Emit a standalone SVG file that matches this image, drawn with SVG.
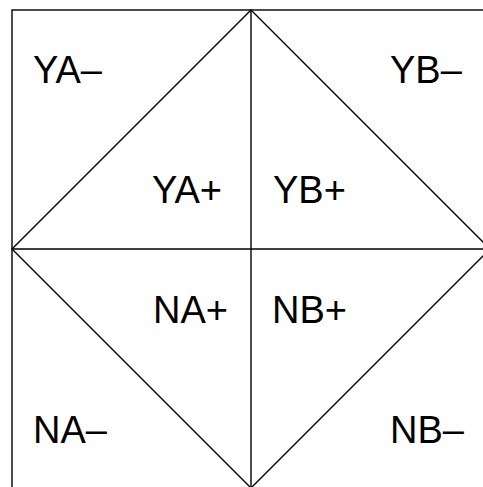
<svg xmlns="http://www.w3.org/2000/svg" width="483" height="487" viewBox="0 0 483 487">
<style>
.ln{fill:none;stroke:#000;stroke-width:1.4}
.lb{font-family:"Liberation Sans",Arial,sans-serif;font-size:38px;fill:#000}
</style>
<rect width="483" height="487" fill="#fff"/>
<g id="connectors">
<rect class="ln" x="12" y="10" width="478" height="478"/>
<line class="ln" x1="251" y1="10" x2="251" y2="488"/>
<line class="ln" x1="12" y1="249" x2="490" y2="249"/>
<polygon class="ln" points="251,10 490,249 251,488 12,249"/>
</g>
<g id="YA-"><text class="lb" x="33" y="83">YA–</text></g>
<g id="YB-"><text class="lb" x="390" y="83">YB–</text></g>
<g id="YA+"><text class="lb" x="152" y="203">YA+</text></g>
<g id="YB+"><text class="lb" x="273" y="203">YB+</text></g>
<g id="NA+"><text class="lb" x="153" y="323">NA+</text></g>
<g id="NB+"><text class="lb" x="272" y="323">NB+</text></g>
<g id="NA-"><text class="lb" x="33" y="443">NA–</text></g>
<g id="NB-"><text class="lb" x="390" y="443">NB–</text></g>
</svg>
